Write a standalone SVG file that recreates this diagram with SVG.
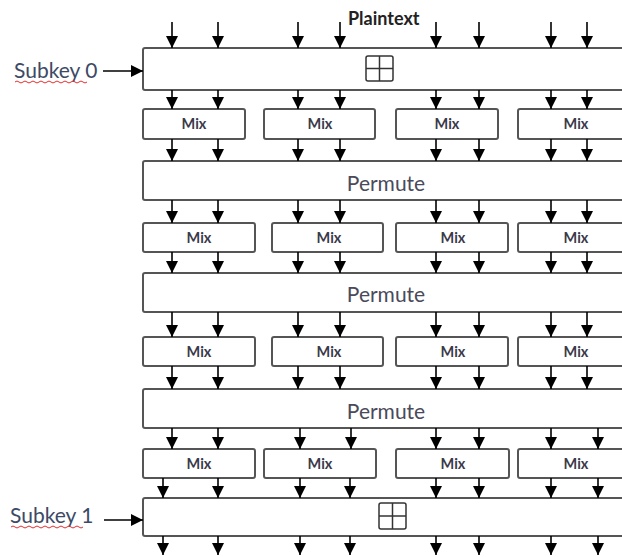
<svg xmlns="http://www.w3.org/2000/svg" width="622" height="557" viewBox="0 0 622 557">
<defs>
<marker id="ah" markerUnits="userSpaceOnUse" markerWidth="12" markerHeight="12" refX="10" refY="5" orient="auto" viewBox="0 0 10 10">
<path d="M0,0 L10,5 L0,10 z" fill="#000"/>
</marker>
<style>
.box{fill:#fff;stroke:#555;stroke-width:2}
.xor{fill:none;stroke:#333;stroke-width:1.5}
.mix{font-family:Lato,"Open Sans",sans-serif;font-size:14.5px;font-weight:bold;fill:#3a3a4a;text-anchor:middle}
.perm{font-family:Lato,"Open Sans",sans-serif;font-size:21px;fill:#4a4a5a;text-anchor:middle}
.lbl{font-family:Lato,"Open Sans",sans-serif;font-size:21px;fill:#3d4a66}
.pt{font-family:Lato,"Open Sans",sans-serif;font-size:18px;font-weight:bold;fill:#222}
.c line{stroke:#000;stroke-width:1.6;marker-end:url(#ah)}
.sq{fill:none;stroke:#e03030;stroke-width:1}
</style>
</defs>
<rect width="622" height="557" fill="#fff"/>

<g id="plaintext"><text class="pt" x="348" y="25">Plaintext</text></g>

<g id="subkey0-label"><text class="lbl" x="14" y="78">Subkey 0</text>
<path class="sq" d="M15,82 q2,-2 4,0 t4,0 t4,0 t4,0 t4,0 t4,0 t4,0 t4,0 t4,0 t4,0 t4,0 t4,0 t4,0 t4,0 t4,0 t4,0 t4,0 t4,0"/></g>
<g id="subkey1-label"><text class="lbl" x="10" y="523">Subkey 1</text>
<path class="sq" d="M11,527 q2,-2 4,0 t4,0 t4,0 t4,0 t4,0 t4,0 t4,0 t4,0 t4,0 t4,0 t4,0 t4,0 t4,0 t4,0 t4,0 t4,0 t4,0 t4,0"/></g>

<g id="xor0"><rect class="box" x="143" y="48" width="500" height="42" rx="2"/>
<rect class="xor" x="366" y="56" width="27" height="25" rx="2"/><line class="xor" x1="379.5" y1="56" x2="379.5" y2="81"/><line class="xor" x1="366" y1="68.5" x2="393" y2="68.5"/></g>

<g id="mix-r1">
<rect class="box" x="143" y="109" width="102" height="30" rx="2"/><text class="mix" x="194" y="129">Mix</text>
<rect class="box" x="264" y="109" width="111" height="30" rx="2"/><text class="mix" x="320" y="129">Mix</text>
<rect class="box" x="396" y="109" width="102" height="30" rx="2"/><text class="mix" x="447" y="129">Mix</text>
<rect class="box" x="518" y="109" width="130" height="30" rx="2"/><text class="mix" x="576" y="129">Mix</text>
</g>

<g id="permute1"><rect class="box" x="143" y="161" width="500" height="39" rx="2"/><text class="perm" x="386" y="191">Permute</text></g>

<g id="mix-r2">
<rect class="box" x="143" y="223" width="112" height="29" rx="2"/><text class="mix" x="199" y="243">Mix</text>
<rect class="box" x="272" y="223" width="111" height="29" rx="2"/><text class="mix" x="329" y="243">Mix</text>
<rect class="box" x="396" y="223" width="112" height="29" rx="2"/><text class="mix" x="453" y="243">Mix</text>
<rect class="box" x="518" y="223" width="130" height="29" rx="2"/><text class="mix" x="576" y="243">Mix</text>
</g>

<g id="permute2"><rect class="box" x="143" y="273" width="500" height="39" rx="2"/><text class="perm" x="386" y="302">Permute</text></g>

<g id="mix-r3">
<rect class="box" x="143" y="337" width="112" height="29" rx="2"/><text class="mix" x="199" y="357">Mix</text>
<rect class="box" x="272" y="337" width="111" height="29" rx="2"/><text class="mix" x="329" y="357">Mix</text>
<rect class="box" x="396" y="337" width="112" height="29" rx="2"/><text class="mix" x="453" y="357">Mix</text>
<rect class="box" x="518" y="337" width="130" height="29" rx="2"/><text class="mix" x="576" y="357">Mix</text>
</g>

<g id="permute3"><rect class="box" x="143" y="389" width="500" height="39" rx="2"/><text class="perm" x="386" y="419">Permute</text></g>

<g id="mix-r4">
<rect class="box" x="143" y="449" width="112" height="29" rx="2"/><text class="mix" x="199" y="469">Mix</text>
<rect class="box" x="264" y="449" width="112" height="29" rx="2"/><text class="mix" x="320" y="469">Mix</text>
<rect class="box" x="396" y="449" width="113" height="29" rx="2"/><text class="mix" x="453" y="469">Mix</text>
<rect class="box" x="518" y="449" width="130" height="29" rx="2"/><text class="mix" x="576" y="469">Mix</text>
</g>

<g id="xor1"><rect class="box" x="143" y="498" width="500" height="38" rx="2"/>
<rect class="xor" x="379" y="503" width="27" height="26" rx="2"/><line class="xor" x1="392.5" y1="503" x2="392.5" y2="529"/><line class="xor" x1="379" y1="516" x2="406" y2="516"/></g>

<g id="connectors" class="c">
<line x1="103" y1="71" x2="143" y2="71"/>
<line x1="104" y1="520" x2="143" y2="520"/>
<line x1="172" y1="22" x2="172" y2="48"/><line x1="218" y1="22" x2="218" y2="48"/><line x1="298" y1="22" x2="298" y2="48"/><line x1="340" y1="22" x2="340" y2="48"/><line x1="436" y1="22" x2="436" y2="48"/><line x1="479" y1="22" x2="479" y2="48"/><line x1="551" y1="22" x2="551" y2="48"/><line x1="587" y1="22" x2="587" y2="48"/>
<line x1="172" y1="90" x2="172" y2="109"/><line x1="218" y1="90" x2="218" y2="109"/><line x1="298" y1="90" x2="298" y2="109"/><line x1="340" y1="90" x2="340" y2="109"/><line x1="436" y1="90" x2="436" y2="109"/><line x1="479" y1="90" x2="479" y2="109"/><line x1="551" y1="90" x2="551" y2="109"/><line x1="587" y1="90" x2="587" y2="109"/>
<line x1="172" y1="139" x2="172" y2="161"/><line x1="218" y1="139" x2="218" y2="161"/><line x1="298" y1="139" x2="298" y2="161"/><line x1="340" y1="139" x2="340" y2="161"/><line x1="436" y1="139" x2="436" y2="161"/><line x1="479" y1="139" x2="479" y2="161"/><line x1="551" y1="139" x2="551" y2="161"/><line x1="587" y1="139" x2="587" y2="161"/>
<line x1="172" y1="200" x2="172" y2="223"/><line x1="218" y1="200" x2="218" y2="223"/><line x1="298" y1="200" x2="298" y2="223"/><line x1="340" y1="200" x2="340" y2="223"/><line x1="436" y1="200" x2="436" y2="223"/><line x1="479" y1="200" x2="479" y2="223"/><line x1="551" y1="200" x2="551" y2="223"/><line x1="587" y1="200" x2="587" y2="223"/>
<line x1="172" y1="252" x2="172" y2="273"/><line x1="218" y1="252" x2="218" y2="273"/><line x1="298" y1="252" x2="298" y2="273"/><line x1="340" y1="252" x2="340" y2="273"/><line x1="436" y1="252" x2="436" y2="273"/><line x1="479" y1="252" x2="479" y2="273"/><line x1="551" y1="252" x2="551" y2="273"/><line x1="587" y1="252" x2="587" y2="273"/>
<line x1="172" y1="312" x2="172" y2="337"/><line x1="218" y1="312" x2="218" y2="337"/><line x1="298" y1="312" x2="298" y2="337"/><line x1="340" y1="312" x2="340" y2="337"/><line x1="436" y1="312" x2="436" y2="337"/><line x1="479" y1="312" x2="479" y2="337"/><line x1="551" y1="312" x2="551" y2="337"/><line x1="587" y1="312" x2="587" y2="337"/>
<line x1="172" y1="366" x2="172" y2="389"/><line x1="218" y1="366" x2="218" y2="389"/><line x1="298" y1="366" x2="298" y2="389"/><line x1="340" y1="366" x2="340" y2="389"/><line x1="436" y1="366" x2="436" y2="389"/><line x1="479" y1="366" x2="479" y2="389"/><line x1="551" y1="366" x2="551" y2="389"/><line x1="587" y1="366" x2="587" y2="389"/>
<line x1="172" y1="428" x2="172" y2="449"/><line x1="218" y1="428" x2="218" y2="449"/><line x1="300" y1="428" x2="300" y2="449"/><line x1="351" y1="428" x2="351" y2="449"/><line x1="436" y1="428" x2="436" y2="449"/><line x1="479" y1="428" x2="479" y2="449"/><line x1="551" y1="428" x2="551" y2="449"/><line x1="598" y1="428" x2="598" y2="449"/>
<line x1="163" y1="478" x2="163" y2="498"/><line x1="218" y1="478" x2="218" y2="498"/><line x1="300" y1="478" x2="300" y2="498"/><line x1="350" y1="478" x2="350" y2="498"/><line x1="436" y1="478" x2="436" y2="498"/><line x1="479" y1="478" x2="479" y2="498"/><line x1="551" y1="478" x2="551" y2="498"/><line x1="598" y1="478" x2="598" y2="498"/>
<line x1="163" y1="536" x2="163" y2="555"/><line x1="218" y1="536" x2="218" y2="555"/><line x1="300" y1="536" x2="300" y2="555"/><line x1="350" y1="536" x2="350" y2="555"/><line x1="436" y1="536" x2="436" y2="555"/><line x1="479" y1="536" x2="479" y2="555"/><line x1="551" y1="536" x2="551" y2="555"/><line x1="598" y1="536" x2="598" y2="555"/>
</g>
</svg>
